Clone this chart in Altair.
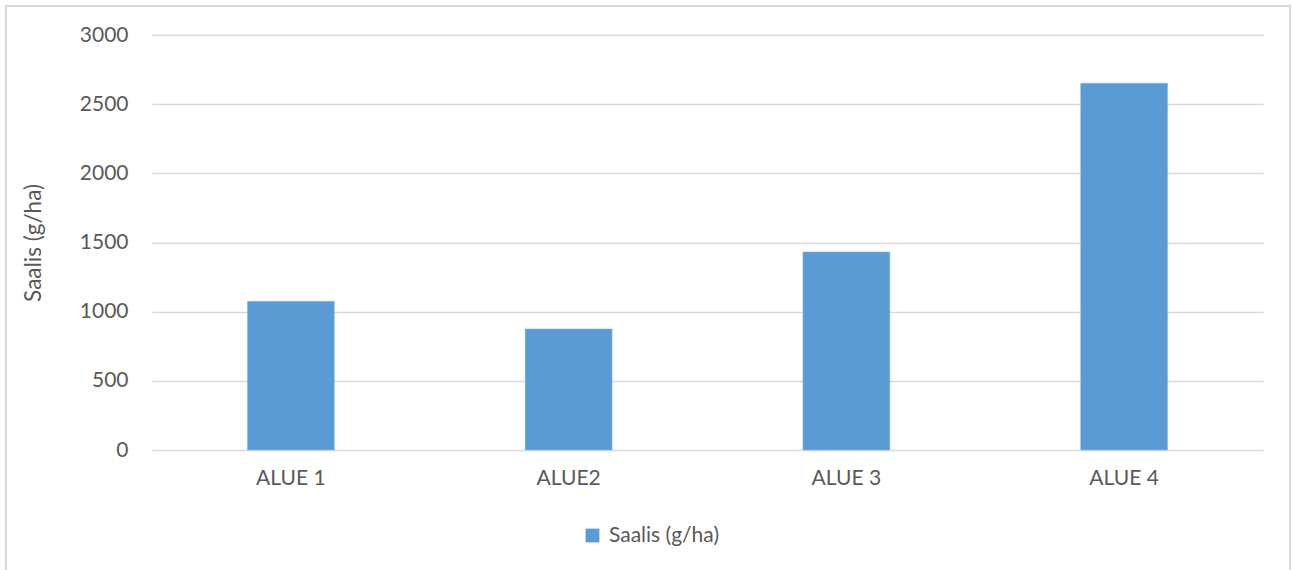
import altair as alt
import pandas as pd

categories = ["ALUE 1", "ALUE2", "ALUE 3", "ALUE 4"]
values = [1075, 875, 1432, 2652]
series_name = "Saalis (g/ha)"
y_ticks = [0, 500, 1000, 1500, 2000, 2500, 3000]

df = pd.DataFrame({"alue": categories, "saalis": values, "sarja": [series_name] * len(categories)})

FONT = "Lato"
TXT = "#595959"
GRID = "#d9d9d9"
BAR = "#5b9bd5"

W, H = 1111, 415
LEFT, TOP = 152, 35

bars = alt.Chart(df).mark_bar(color=BAR, stroke="#8db8e3", strokeWidth=0.5).encode(
    x=alt.X("alue:N", sort=categories, title=None,
            scale=alt.Scale(paddingInner=0.687, paddingOuter=0.3435),
            axis=alt.Axis(labelAngle=0, ticks=False, domain=False, labelPadding=17,
                          labelFontSize=21, labelColor=TXT, labelFont=FONT)),
    y=alt.Y("saalis:Q", title="Saalis (g/ha)",
            scale=alt.Scale(domain=[0, 3000], nice=False),
            axis=alt.Axis(values=y_ticks, format="d", ticks=False, domain=False, grid=True,
                          gridColor=GRID, gridWidth=1.5, labelPadding=24,
                          labelFontSize=21, labelColor=TXT, labelFont=FONT,
                          titleFontSize=22.5, titleColor=TXT, titleFont=FONT,
                          titleFontWeight="normal", titlePadding=34)),
    color=alt.Color("sarja:N", scale=alt.Scale(range=[BAR]),
                    legend=alt.Legend(title=None, orient="none", legendX=430, legendY=490,
                                      symbolType="square", symbolSize=190,
                                      symbolStrokeWidth=0, labelFontSize=21,
                                      labelColor=TXT, labelFont=FONT, labelOffset=6)),
)

border = alt.Chart(df).mark_rect(fill=None, stroke=GRID, strokeWidth=1.5).encode(
    x=alt.value(6 - LEFT), x2=alt.value(1290 - LEFT),
    y=alt.value(6 - TOP), y2=alt.value(600 - TOP),
)

chart = alt.layer(border, bars).properties(
    width=W, height=H,
    autosize=alt.AutoSizeParams(type="none"),
    padding={"left": LEFT, "top": TOP, "right": 1292 - LEFT - W, "bottom": 570 - TOP - H},
    background="white",
).configure_view(stroke=None)

chart.save("out.html", embed_options={"renderer": "svg", "actions": False})
